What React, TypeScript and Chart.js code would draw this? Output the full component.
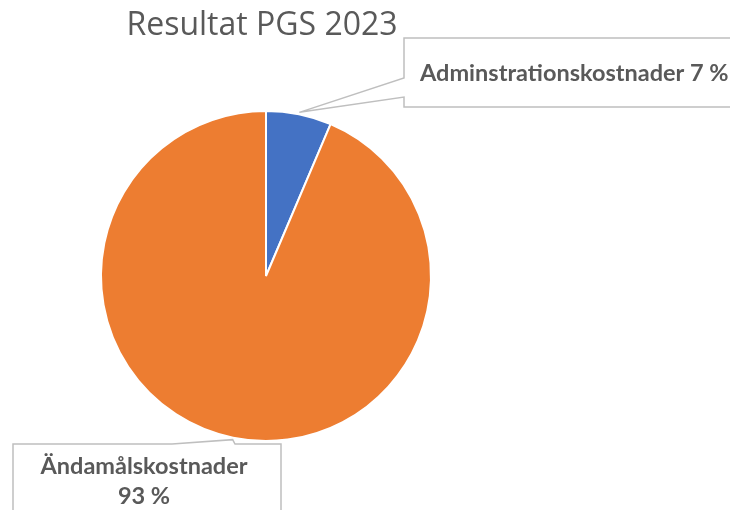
import React, { useEffect, useRef } from "react";
import { Chart, registerables } from "chart.js";

Chart.register(...registerables);

const TITLE = "Resultat PGS 2023";
const CATEGORIES = ["Adminstrationskostnader", "Ändamålskostnader"];
const VALUES = [6.4, 93.6];
const PERCENT_LABELS = ["7 %", "93 %"];
const COLORS = ["#4472C4", "#ED7D31"];

const TEXT_COLOR = "#595959";
const BOX_COLOR = "#BFBFBF";
const LABEL_FONT = "bold 23.5px Lato";

const calloutPlugin = {
  id: "callouts",
  afterDraw(chart: any) {
    const ctx = chart.ctx as CanvasRenderingContext2D;
    const meta = chart.getDatasetMeta(0);
    const tips = meta.data.map((arc: any) => {
      const p = arc.getProps(["x", "y", "startAngle", "endAngle", "outerRadius"], true);
      const mid = (p.startAngle + p.endAngle) / 2;
      const r = p.outerRadius + 2;
      return { x: p.x + Math.cos(mid) * r, y: p.y + Math.sin(mid) * r };
    });

    ctx.save();
    // Title
    ctx.fillStyle = TEXT_COLOR;
    ctx.font = "32px 'Open Sans'";
    ctx.textAlign = "center";
    ctx.textBaseline = "alphabetic";
    ctx.fillText(TITLE, 262, 35);

    ctx.lineWidth = 1.5;
    ctx.strokeStyle = BOX_COLOR;
    ctx.fillStyle = "#FFFFFF";

    // Callout 1 (top right)
    const t0 = tips[0];
    ctx.beginPath();
    ctx.moveTo(404, 38);
    ctx.lineTo(745, 38);
    ctx.lineTo(745, 107);
    ctx.lineTo(404, 107);
    ctx.lineTo(404, 97);
    ctx.lineTo(t0.x, t0.y);
    ctx.lineTo(404, 78);
    ctx.closePath();
    ctx.fill();
    ctx.stroke();

    // Callout 2 (bottom left)
    const t1 = tips[1];
    ctx.beginPath();
    ctx.moveTo(13, 444);
    ctx.lineTo(172, 444);
    ctx.lineTo(t1.x, t1.y);
    ctx.lineTo(235, 444);
    ctx.lineTo(281, 444);
    ctx.lineTo(281, 530);
    ctx.lineTo(13, 530);
    ctx.closePath();
    ctx.fill();
    ctx.stroke();

    ctx.fillStyle = TEXT_COLOR;
    ctx.font = LABEL_FONT;
    ctx.textAlign = "left";
    ctx.fillText(CATEGORIES[0] + " " + PERCENT_LABELS[0], 420, 81);

    ctx.textAlign = "center";
    ctx.fillText(CATEGORIES[1], 144, 474);
    ctx.fillText(PERCENT_LABELS[1], 144, 504);
    ctx.restore();
  },
};

export default function App() {
  const ref = useRef<HTMLCanvasElement | null>(null);
  useEffect(() => {
    if (!ref.current) return;
    const chart = new Chart(ref.current, {
      type: "pie",
      data: {
        labels: CATEGORIES,
        datasets: [
          {
            data: VALUES,
            backgroundColor: COLORS,
            borderColor: "#FFFFFF",
            borderWidth: 2,
          },
        ],
      },
      options: {
        responsive: false,
        animation: false,
        layout: { padding: { left: 100, right: 298, top: 110, bottom: 68 } },
        plugins: {
          legend: { display: false },
          title: { display: false },
          tooltip: { enabled: false },
        },
      },
      plugins: [calloutPlugin],
    });
    return () => chart.destroy();
  }, []);
  return (
    <div style={{ position: "fixed", left: 0, top: 0, width: 730, height: 510, background: "#fff" }}>
      <canvas ref={ref} width={730} height={510} />
    </div>
  );
}
